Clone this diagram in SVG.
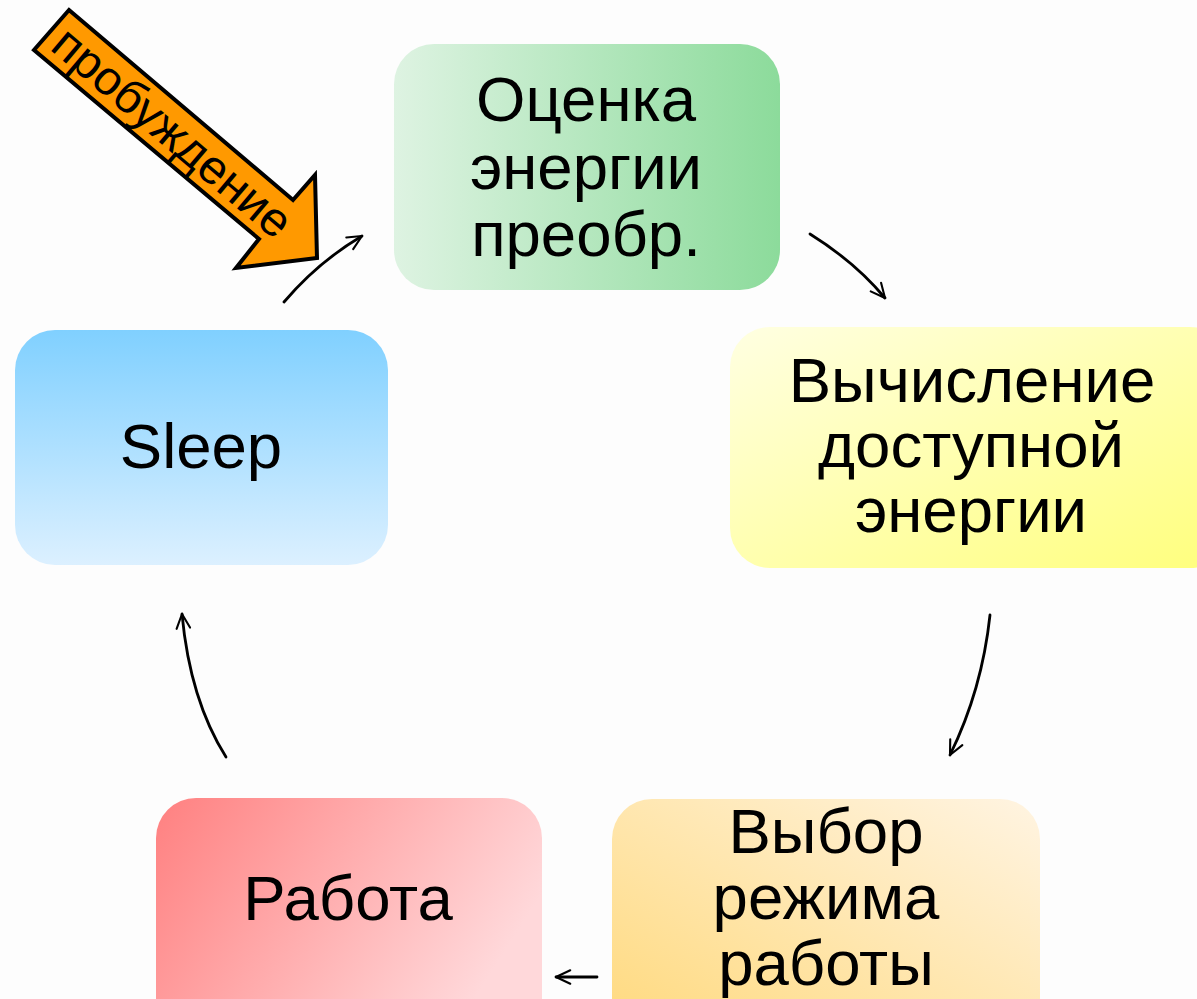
<svg xmlns="http://www.w3.org/2000/svg" width="1197" height="999" viewBox="0 0 1197 999">
<style>
.lbl{font-family:"Liberation Sans",Arial,sans-serif;font-size:63.5px;fill:#000;text-anchor:middle}
.con{fill:none;stroke:#000;stroke-width:2.8;stroke-linecap:round}
</style>
<defs>
<linearGradient id="gGreen" x1="0" y1="0" x2="1" y2="0"><stop offset="0" stop-color="#def3e2"/><stop offset="1" stop-color="#8cdb9b"/></linearGradient>
<linearGradient id="gYellow" x1="0" y1="0" x2="1" y2="1"><stop offset="0" stop-color="#ffffe2"/><stop offset="1" stop-color="#ffff7c"/></linearGradient>
<linearGradient id="gBlue" x1="0" y1="0" x2="0" y2="1"><stop offset="0" stop-color="#80d0ff"/><stop offset="1" stop-color="#dcf0ff"/></linearGradient>
<linearGradient id="gOrange" x1="0" y1="1" x2="1" y2="0"><stop offset="0" stop-color="#ffd97c"/><stop offset="1" stop-color="#fff4e2"/></linearGradient>
<linearGradient id="gRed" x1="0" y1="0" x2="1" y2="0.4"><stop offset="0" stop-color="#ff8080"/><stop offset="1" stop-color="#ffd8da"/></linearGradient>
<marker id="ah" viewBox="0 0 12 12" refX="11" refY="6" markerWidth="9" markerHeight="9" markerUnits="userSpaceOnUse" orient="auto" overflow="visible">
<path d="M-8,-3 L11,6 L-8,15" fill="none" stroke="#000" stroke-width="2.8" stroke-linecap="round" stroke-linejoin="round"/>
</marker>
</defs>
<rect width="1197" height="999" fill="#fdfdfd"/>
<g id="connectors">
<path class="con" d="M284,302 Q318,262 362,236" marker-end="url(#ah)"/>
<path class="con" d="M810,234 Q855,262 885,298" marker-end="url(#ah)"/>
<path class="con" d="M990,615 Q982,690 950,755" marker-end="url(#ah)"/>
<path class="con" d="M597,977 L556,977" marker-end="url(#ah)"/>
<path class="con" d="M226,757 Q190,700 182,614" marker-end="url(#ah)"/>
</g>
<g id="node-green">
<rect x="394" y="44" width="386" height="246" rx="40" fill="url(#gGreen)"/>
<text class="lbl" x="586" y="121">Оценка</text>
<text class="lbl" x="586" y="189">энергии</text>
<text class="lbl" x="586" y="256">преобр.</text>
</g>
<g id="node-yellow">
<rect x="730" y="327" width="500" height="241" rx="40" fill="url(#gYellow)"/>
<text class="lbl" x="972" y="402">Вычисление</text>
<text class="lbl" x="971" y="467">доступной</text>
<text class="lbl" x="971" y="532">энергии</text>
</g>
<g id="node-sleep">
<rect x="15" y="330" width="373" height="235" rx="40" fill="url(#gBlue)"/>
<text class="lbl" x="201" y="468">Sleep</text>
</g>
<g id="node-mode">
<rect x="612" y="799" width="428" height="240" rx="40" fill="url(#gOrange)"/>
<text class="lbl" x="826" y="853">Выбор</text>
<text class="lbl" x="826" y="919">режима</text>
<text class="lbl" x="826" y="985">работы</text>
</g>
<g id="node-work">
<rect x="156" y="798" width="386" height="240" rx="40" fill="url(#gRed)"/>
<text class="lbl" x="348" y="920">Работа</text>
</g>
<g id="wake-arrow">
<polygon points="69,10 293,200 315,175 317,258 236,268 259,239 34,50" fill="#ff9900" stroke="#000" stroke-width="4" stroke-linejoin="miter"/>
<text transform="translate(51.5,30) rotate(40.3)" x="10" y="16" font-family="Liberation Sans, Arial, sans-serif" font-size="48">пробуждение</text>
</g>
</svg>
